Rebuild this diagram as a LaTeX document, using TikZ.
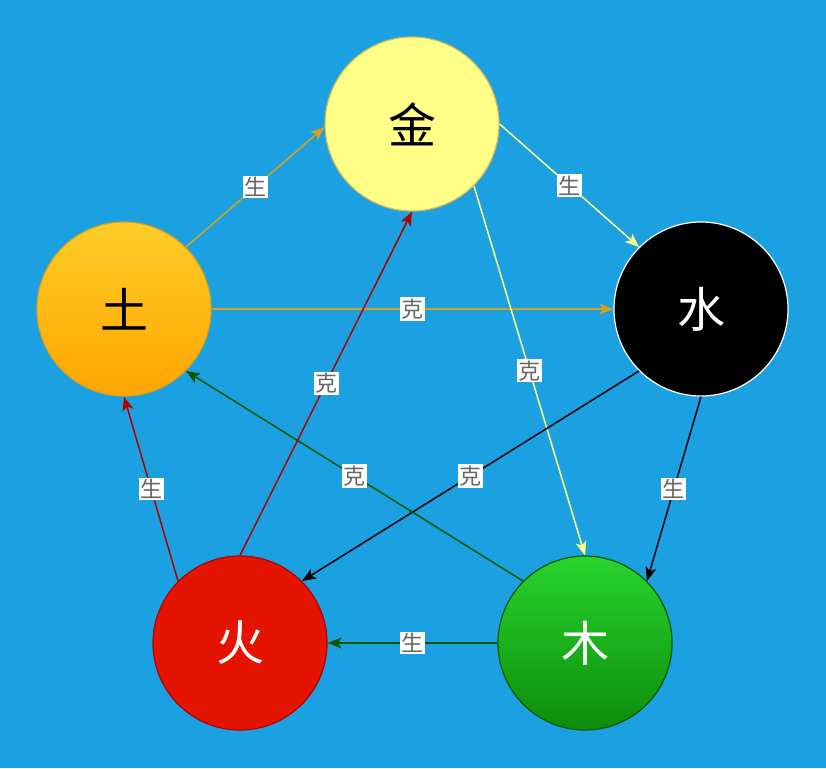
\documentclass[tikz,border=0pt]{standalone}
\usepackage{fontspec}
\setmainfont{Noto Sans CJK SC}
\usetikzlibrary{arrows.meta}
\usetikzlibrary{positioning}
\definecolor{bgblue}{HTML}{1BA1E2}
\definecolor{jinfill}{HTML}{FFFF88}
\definecolor{jinline}{HTML}{D6B656}
\definecolor{tutop}{HTML}{FFCD28}
\definecolor{tubot}{HTML}{FFA500}
\definecolor{tuline}{HTML}{D4A21C}
\definecolor{mutop}{HTML}{28D42C}
\definecolor{mubot}{HTML}{0C8C0C}
\definecolor{muline}{HTML}{005700}
\definecolor{huofill}{HTML}{E51400}
\definecolor{huoline}{HTML}{B20000}
\definecolor{labelgray}{HTML}{666666}
\tikzset {
    element/.style = {shape=circle, minimum size=174pt, inner sep=0pt, line width=1.2pt, font=\fontsize{48}{48}\selectfont},
    link/.style = {line width=1.5pt, -{Stealth[length=14pt, width=11pt, inset=3.5pt]}},
    rel/.style = {fill=white, text=labelgray, inner sep=1.5pt, font=\fontsize{22}{22}\selectfont}
    %ring/.style={draw=white}
}

\begin{document}
\begin{tikzpicture}[x=1pt, y=-1pt]
	\useasboundingbox (0,0) rectangle (826,768);
	\fill[bgblue] (0,0) rectangle (826,768);
	\begin{scope}
	\node (jin) [element, fill=jinfill, draw=jinline] at (412,124) {金};
	\node (shui) [element, fill=black, draw=white, text=white] at (701,309) {水};
	\node (mu) [element, top color=mutop, bottom color=mubot, draw=muline, text=white] at (585,643) {木};
	\node (huo) [element, fill=huofill, draw=huoline, text=white] at (240,643) {火};
	\node (tu) [element, top color=tutop, bottom color=tubot, draw=tuline] at (124,309) {土};
	% sheng
	\draw[link, tuline] (tu.45) -- node[rel] {生} (jin.182);
	\draw[link, jinfill] (jin.0) -- node[rel] {生} (shui.135);
	\draw[link, black] (shui.270) -- node[rel] {生} (mu.45);
	\draw[link, muline] (mu.180) -- node[rel] {生} (huo.0);
	\draw[link, huoline] (huo.135) -- node[rel] {生} (tu.270);
	% ke
	\draw[link, tuline] (tu.0) -- node[rel] {克} (shui.180);
	\draw[link, jinfill] (jin.-45) -- node[rel] {克} (mu.90);
	\draw[link, black] (shui.225) -- node[rel] {克} (huo.45);
	\draw[link, muline] (mu.135) -- node[rel] {克} (tu.-45);
	\draw[link, huoline] (huo.90) -- node[rel] {克} (jin.270);
	\end{scope}
\end{tikzpicture}
\end{document}
